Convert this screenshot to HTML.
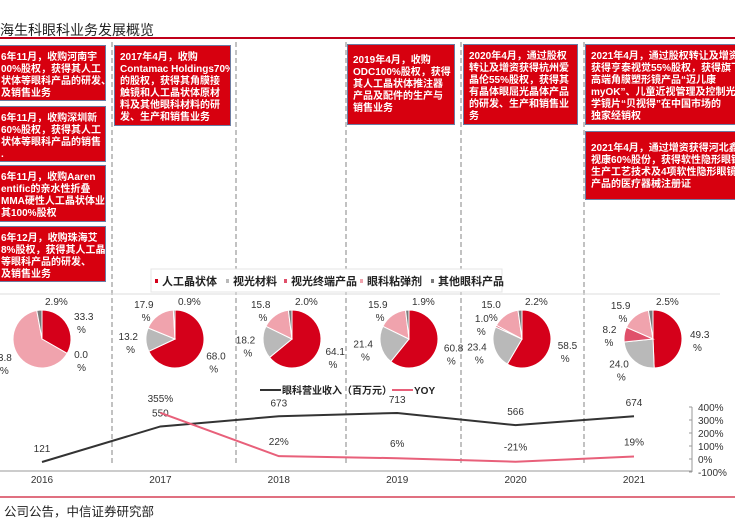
<!DOCTYPE html>
<html><head><meta charset="utf-8"><style>
body{margin:0;width:735px;height:518px;overflow:hidden;background:#fff;font-family:"Liberation Sans","Noto Sans CJK SC",sans-serif;position:relative}
.box{position:absolute;background:#d7000f;border:1.5px solid #6b7ca3;color:#fff;font-weight:bold;font-size:10px;line-height:12px;white-space:nowrap;overflow:hidden;box-sizing:border-box;padding:6px 5px}
.t{position:absolute}
</style></head><body>
<div class="t" style="left:0;top:20px;font-size:14px;color:#222">海生科眼科业务发展概览</div>
<div style="position:absolute;left:0;top:37px;width:735px;height:1.5px;background:#c0001a"></div>

<div class="box" style="left:-2px;top:45px;width:108px;height:56px;padding-left:2px">6年11月，收购河南宇<br>00%股权，获得其人工<br>状体等眼科产品的研发、<br>及销售业务</div>
<div class="box" style="left:-2px;top:106px;width:108px;height:56px;padding-left:2px">6年11月，收购深圳新<br>60%股权，获得其人工<br>状体等眼科产品的销售<br>.</div>
<div class="box" style="left:-2px;top:165px;width:108px;height:57px;padding-left:2px">6年11月，收购Aaren<br>entific的亲水性折叠<br>MMA硬性人工晶状体业<br>其100%股权</div>
<div class="box" style="left:-2px;top:226px;width:108px;height:56px;padding-left:2px">6年12月，收购珠海艾<br>8%股权，获得其人工晶<br>等眼科产品的研发、<br>及销售业务</div>
<div class="box" style="left:114px;top:45px;width:117px;height:81px">2017年4月，收购<br>Contamac Holdings70%<br>的股权，获得其角膜接<br>触镜和人工晶状体原材<br>料及其他眼科材料的研<br>发、生产和销售业务</div>
<div class="box" style="left:347px;top:44px;width:108px;height:81px;padding-top:10px">2019年4月，收购<br>ODC100%股权，获得<br>其人工晶状体推注器<br>产品及配件的生产与<br>销售业务</div>
<div class="box" style="left:463px;top:44px;width:115px;height:81px">2020年4月，通过股权<br>转让及增资获得杭州爱<br>晶伦55%股权，获得其<br>有晶体眼屈光晶体产品<br>的研发、生产和销售业<br>务</div>
<div class="box" style="left:585px;top:44px;width:155px;height:81px">2021年4月，通过股权转让及增资<br>获得亨泰视觉55%股权，获得旗下<br>高端角膜塑形镜产品“迈儿康<br>myOK”、儿童近视管理及控制光<br>学镜片“贝视得”在中国市场的<br>独家经销权</div>
<div class="box" style="left:585px;top:131px;width:155px;height:69px;padding-top:11px">2021年4月，通过增资获得河北鑫<br>视康60%股份，获得软性隐形眼镜<br>生产工艺技术及4项软性隐形眼镜<br>产品的医疗器械注册证</div>

<svg id="chart" width="735" height="518" style="position:absolute;left:0;top:0"></svg>
<div style="position:absolute;left:0;top:496px;width:735px;height:2px;background:#e07080"></div>
<div class="t" style="left:4px;top:501px;font-size:12.5px;color:#222">公司公告，中信证券研究部</div>

<script>
const years=["2016","2017","2018","2019","2020","2021"];
const segNames=["人工晶状体","视光材料","视光终端产品","眼科粘弹剂","其他眼科产品"];
const ioL=[33.3,68.0,64.1,60.8,58.5,49.3];
const optMat=[0.0,13.2,18.2,21.4,23.4,24.0];
const optTerm=[0,0,0,0,1.0,8.2];
const visco=[63.8,17.9,15.8,15.9,15.0,15.9];
const other=[2.9,0.9,2.0,1.9,2.2,2.5];
const revenue=[121,550,673,713,566,674];
const yoy=[null,355,22,6,-21,19];
const yoyTicks=[400,300,200,100,0,-100];

const NS="http://www.w3.org/2000/svg";
const svg=document.getElementById('chart');
function mk(tag,attrs,parent){const e=document.createElementNS(NS,tag);for(const k in attrs)e.setAttribute(k,attrs[k]);(parent||svg).appendChild(e);return e;}
const colors=["#d5001a","#b9b9b9","#e0506a","#f0a3ad","#7a7a7a"];
const xPos=i=>42+i*118.4;
const pieX=[42,175,292,409,522,653];
const yRev=v=>462-(v-121)*0.0828;
const yYoy=v=>459-v*0.13;

[112,236,346,461,584].forEach(x=>{
 const l=mk('line',{x1:x,y1:42,x2:x,y2:466,stroke:'#999','stroke-width':1.2,'stroke-dasharray':'5,3'});
 
 
});
mk('line',{x1:0,y1:294,x2:720,y2:294,stroke:'#ddd','stroke-width':1});

const lg=mk('g',{});


mk('rect',{x:151,y:269,width:351,height:23,fill:'#fff',stroke:'#e4e4e4'},lg);
const lgx=[155,226,284,360,431];
segNames.forEach((n,i)=>{
 mk('rect',{x:lgx[i],y:279,width:3,height:4,fill:colors[i]},lg);
 const t=mk('text',{x:lgx[i]+7,y:285,'font-size':11,'font-weight':'bold',fill:'#222'},lg);
 t.textContent=n;
 
 
});

years.forEach((y,i)=>{
 const cx=pieX[i],cy=339,r=29;
 const vals=[ioL[i],optMat[i],optTerm[i],visco[i],other[i]];
 const tot=vals.reduce((a,b)=>a+b,0);
 let a=0;
 const g=mk('g',{});
 
 
 vals.forEach((v,k)=>{
  const a0=a,a1=a+v/tot*2*Math.PI;a=a1;
  if(v>0){
   const x0=cx+r*Math.sin(a0),y0=cy-r*Math.cos(a0),x1=cx+r*Math.sin(a1),y1=cy-r*Math.cos(a1);
   const p=mk('path',{d:`M${cx},${cy}L${x0},${y0}A${r},${r} 0 ${a1-a0>Math.PI?1:0} 1 ${x1},${y1}Z`,fill:colors[k],stroke:'#fff','stroke-width':1},g);
   
   
  }
  if(k===2&&v===0&&i<5)return;
  const m=(a0+a1)/2,s=Math.sin(m);
  const lx=cx+s*37,ly=cy-Math.cos(m)*38;
  const anc=s>0.25?'start':(s<-0.25?'end':'middle');
  const t=mk('text',{x:lx,y:ly,'font-size':10,fill:'#333','text-anchor':anc},g);
  if(k===4){t.textContent=v.toFixed(1)+'%';t.setAttribute('x',cx+3);t.setAttribute('y',cy-34);t.setAttribute('text-anchor','start');}
  else{t.textContent=v.toFixed(1);const t2=mk('text',{x:lx+(anc==='end'?-3:3),y:ly+13,'font-size':10,fill:'#333','text-anchor':anc},g);t2.textContent='%';}
 });
});

mk('line',{x1:260,y1:390,x2:281,y2:390,stroke:'#333','stroke-width':2});
let t=mk('text',{x:282,y:394,'font-size':10,'font-weight':'bold',fill:'#222'});t.textContent='眼科营业收入（百万元）';
mk('line',{x1:392,y1:390,x2:413,y2:390,stroke:'#e8607a','stroke-width':2});
t=mk('text',{x:414,y:394,'font-size':10,'font-weight':'bold',fill:'#222'});t.textContent='YOY';

mk('line',{x1:0,y1:471,x2:692,y2:471,stroke:'#999','stroke-width':1});
mk('line',{x1:692,y1:407,x2:692,y2:472,stroke:'#999','stroke-width':1});
yoyTicks.forEach(v=>{
 mk('line',{x1:689,y1:yYoy(v),x2:692,y2:yYoy(v),stroke:'#999'});
 const tt=mk('text',{x:698,y:yYoy(v)+4,'font-size':10,fill:'#333'});tt.textContent=v+'%';
 
 
});
years.forEach((y,i)=>{
 const tt=mk('text',{x:xPos(i),y:483,'font-size':10,fill:'#333','text-anchor':'middle'});tt.textContent=y;
 
 
});
const rl=mk('polyline',{points:revenue.map((v,i)=>xPos(i)+','+yRev(v)).join(' '),fill:'none',stroke:'#333','stroke-width':2});


revenue.forEach((v,i)=>{const tt=mk('text',{x:xPos(i),y:yRev(v)-10,'font-size':10,fill:'#333','text-anchor':'middle'});tt.textContent=v;});
const yl=mk('polyline',{points:yoy.map((v,i)=>v===null?null:xPos(i)+','+yYoy(v)).filter(Boolean).join(' '),fill:'none',stroke:'#e8607a','stroke-width':2});


yoy.forEach((v,i)=>{if(v===null)return;const tt=mk('text',{x:xPos(i),y:yYoy(v)-11,'font-size':10,fill:'#333','text-anchor':'middle'});tt.textContent=v+'%';});
</script>
</body></html>
